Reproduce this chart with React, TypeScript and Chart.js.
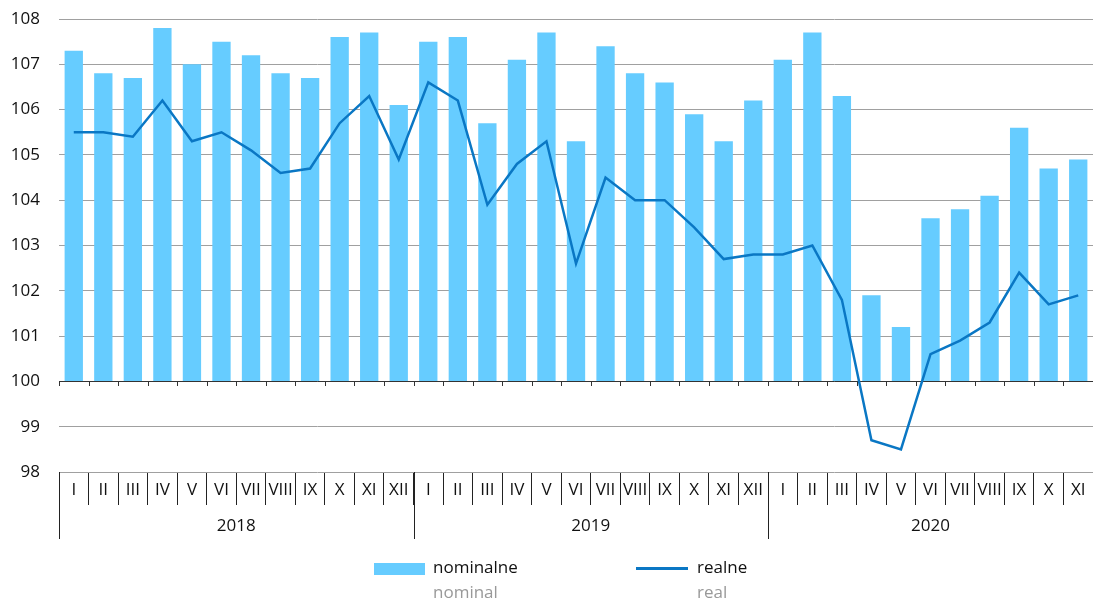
import React, { useEffect, useRef } from "react";
import { Chart, registerables } from "chart.js";

Chart.register(...registerables);

const months = [
  "I", "II", "III", "IV", "V", "VI", "VII", "VIII", "IX", "X", "XI", "XII",
  "I", "II", "III", "IV", "V", "VI", "VII", "VIII", "IX", "X", "XI", "XII",
  "I", "II", "III", "IV", "V", "VI", "VII", "VIII", "IX", "X", "XI",
];
const years = ["2018", "2019", "2020"];
const yearStarts = [0, 12, 24];

const nominal = [
  107.3, 106.8, 106.7, 107.8, 107.0, 107.5, 107.2, 106.8, 106.7, 107.6, 107.7, 106.1,
  107.5, 107.6, 105.7, 107.1, 107.7, 105.3, 107.4, 106.8, 106.6, 105.9, 105.3, 106.2,
  107.1, 107.7, 106.3, 101.9, 101.2, 103.6, 103.8, 104.1, 105.6, 104.7, 104.9,
];
const real = [
  105.5, 105.5, 105.4, 106.2, 105.3, 105.5, 105.1, 104.6, 104.7, 105.7, 106.3, 104.9,
  106.6, 106.2, 103.9, 104.8, 105.3, 102.6, 104.5, 104.0, 104.0, 103.4, 102.7, 102.8,
  102.8, 103.0, 101.8, 98.7, 98.5, 100.6, 100.9, 101.3, 102.4, 101.7, 101.9,
];

const FONT = "'Open Sans', 'Noto Sans', sans-serif";
const BAR = "#66ccff";
const LINE = "#0a77c4";

const axisPlugin = {
  id: "axisPlugin",
  beforeDatasetsDraw(chart: any) {
    const { ctx } = chart;
    const x = chart.scales.x;
    const y = chart.scales.y;
    const y100 = y.getPixelForValue(100);
    const half = (x.getPixelForValue(1) - x.getPixelForValue(0)) / 2;
    ctx.save();
    ctx.strokeStyle = "#333";
    ctx.lineWidth = 1;
    ctx.beginPath();
    ctx.moveTo(chart.chartArea.left, Math.round(y100) + 0.5);
    ctx.lineTo(chart.chartArea.right, Math.round(y100) + 0.5);
    for (let i = 0; i < months.length; i++) {
      const px = Math.round(x.getPixelForValue(i) - half) + 0.5;
      ctx.moveTo(px, Math.round(y100));
      ctx.lineTo(px, Math.round(y100) + 5);
    }
    ctx.stroke();
    ctx.restore();
  },
  afterDraw(chart: any) {
    const { ctx } = chart;
    const x = chart.scales.x;
    const bottom = chart.chartArea.bottom;
    const half = (x.getPixelForValue(1) - x.getPixelForValue(0)) / 2;
    ctx.save();
    ctx.strokeStyle = "#222";
    ctx.lineWidth = 1;
    ctx.beginPath();
    yearStarts.forEach((s) => {
      const px = Math.round(x.getPixelForValue(s) - half) + 0.5;
      ctx.moveTo(px, bottom);
      ctx.lineTo(px, bottom + 67);
    });
    ctx.stroke();
    ctx.fillStyle = "#111";
    ctx.font = "17px " + FONT;
    ctx.textAlign = "center";
    ctx.textBaseline = "middle";
    years.forEach((yr, k) => {
      const s = yearStarts[k];
      const e = k + 1 < yearStarts.length ? yearStarts[k + 1] - 1 : months.length - 1;
      const cx = (x.getPixelForValue(s) + x.getPixelForValue(e)) / 2;
      ctx.fillText(yr, cx, bottom + 54);
    });
    ctx.restore();
  },
};

export default function App() {
  const ref = useRef<HTMLCanvasElement | null>(null);
  useEffect(() => {
    if (!ref.current) return;
    const chart = new Chart(ref.current, {
      type: "bar",
      data: {
        labels: months,
        datasets: [
          {
            type: "line",
            label: "realne",
            data: real,
            borderColor: LINE,
            backgroundColor: LINE,
            borderWidth: 2.5,
            pointRadius: 0,
            tension: 0,
            order: 1,
          } as any,
          {
            type: "bar",
            label: "nominalne",
            data: nominal,
            base: 100,
            backgroundColor: BAR,
            barPercentage: 0.62,
            categoryPercentage: 1,
            order: 2,
          } as any,
        ],
      },
      options: {
        animation: false,
        responsive: false,
        maintainAspectRatio: false,
        layout: { padding: { top: 19, right: 0, left: 0, bottom: 0 } },
        plugins: { legend: { display: false }, tooltip: { enabled: false } },
        scales: {
          x: {
            type: "category",
            offset: true,
            border: { display: false },
            grid: {
              offset: true,
              drawOnChartArea: false,
              drawTicks: true,
              tickLength: 33,
              color: (c: any) => (c.index >= months.length ? "rgba(0,0,0,0)" : "#222"),
              lineWidth: 1,
            },
            ticks: {
              autoSkip: false,
              maxRotation: 0,
              minRotation: 0,
              padding: -25,
              color: "#111",
              font: { family: FONT, size: 17 },
            },
            afterFit: (s: any) => {
              s.height = 129;
            },
          },
          y: {
            min: 98,
            max: 108,
            border: { display: false },
            grid: { color: "#a0a0a0", lineWidth: 1, drawTicks: false },
            ticks: {
              stepSize: 1,
              padding: 19,
              color: "#111",
              font: { family: FONT, size: 17 },
            },
            afterFit: (s: any) => {
              s.width = 59;
              s.paddingTop = 0;
              s.paddingBottom = 0;
            },
          },
        },
      },
      plugins: [axisPlugin],
    });
    return () => chart.destroy();
  }, []);

  const textStyle: React.CSSProperties = {
    position: "absolute",
    fontFamily: FONT,
    fontSize: 17,
    lineHeight: "20px",
    whiteSpace: "nowrap",
  };

  return (
    <div style={{ position: "fixed", left: 0, top: 0, width: 1093, height: 601, background: "#fff" }}>
      <canvas ref={ref} width={1093} height={601} style={{ position: "absolute", left: 0, top: 0 }} />
      <div style={{ position: "absolute", left: 374, top: 563, width: 51, height: 12, background: BAR }} />
      <div style={{ ...textStyle, left: 433, top: 557, color: "#111" }}>nominalne</div>
      <div style={{ ...textStyle, left: 433, top: 582, color: "#999" }}>nominal</div>
      <div style={{ position: "absolute", left: 636, top: 567, width: 52, height: 3, background: LINE }} />
      <div style={{ ...textStyle, left: 697, top: 557, color: "#111" }}>realne</div>
      <div style={{ ...textStyle, left: 697, top: 582, color: "#999" }}>real</div>
    </div>
  );
}
